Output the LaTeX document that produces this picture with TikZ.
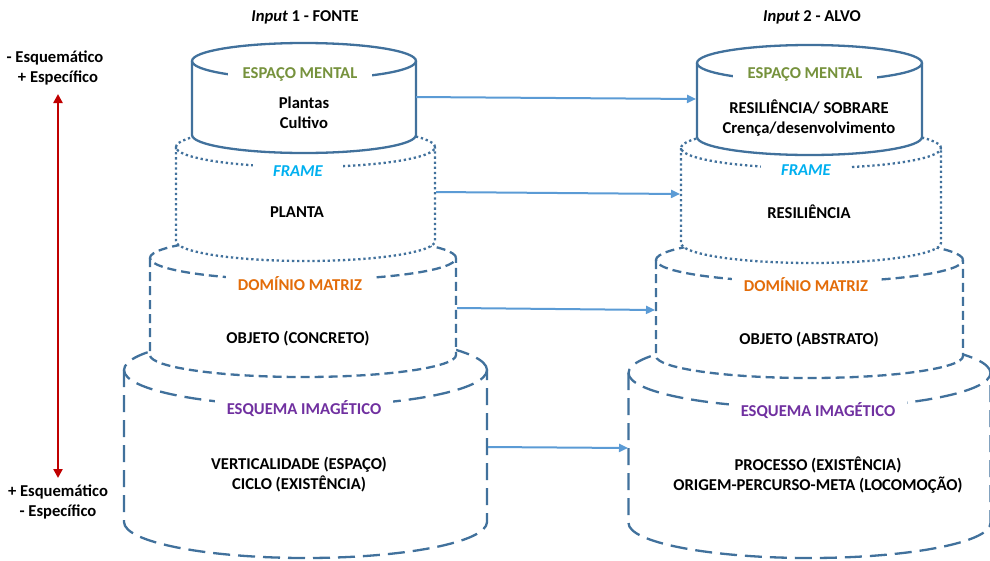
\documentclass[tikz,border=0pt]{standalone}
\usepackage{fontspec}
\setmainfont{Carlito}
\usetikzlibrary{arrows.meta}

\definecolor{rim}{HTML}{41719C}
\definecolor{linkblue}{HTML}{5B9BD5}
\definecolor{mentalgreen}{HTML}{76923C}
\definecolor{framecyan}{HTML}{00B0F0}
\definecolor{domorange}{HTML}{E36C09}
\definecolor{schpurple}{HTML}{7030A0}
\definecolor{axisred}{HTML}{C00000}

% drum: #1 line style, #2 centre x, #3 top y, #4 bottom y, #5 x radius, #6 y radius
\newcommand\drum[6]{%
  \fill[white] (#2-#5,#3) arc[start angle=180,end angle=0,x radius=#5pt,y radius=#6pt]
     -- (#2+#5,#4) arc[start angle=360,end angle=180,x radius=#5pt,y radius=#6pt] -- cycle;
  \draw[#1] (#2,#3) ellipse[x radius=#5pt,y radius=#6pt];
  \draw[#1] (#2-#5,#3) -- (#2-#5,#4)
     arc[start angle=180,end angle=360,x radius=#5pt,y radius=#6pt] -- (#2+#5,#3);
}

\tikzset{
  txt/.style={font=\fontsize{16.6}{20}\selectfont\bfseries, align=center, inner sep=0pt},
  tag/.style={txt, fill=white, inner xsep=12pt, inner ysep=2pt},
  solidrim/.style={draw=rim, line width=2.3pt},
  dotrim/.style={draw=rim, line width=2.3pt, dash pattern=on 2.3pt off 2.8pt},
  dashrim/.style={draw=rim, line width=2.3pt, dash pattern=on 9pt off 5pt},
  longrim/.style={draw=rim, line width=2.3pt, dash pattern=on 17pt off 8pt},
  linkarrow/.style={draw=linkblue, line width=2pt, -{Triangle[length=9pt,width=8pt]}},
  axisarrow/.style={draw=axisred, line width=2.8pt,
    {Triangle[length=9pt,width=9pt]}-{Triangle[length=9pt,width=9pt]}}
}

\begin{document}
\begin{tikzpicture}[x=1pt,y=-1pt]
\useasboundingbox (0,0) rectangle (990,560);

% titles
\node[txt] (t1) at (305,17) {\textit{Input} 1 - FONTE};
\node[txt] (t2) at (812,17) {\textit{Input} 2 - ALVO};

% schematicity axis
\node[txt] (up1) at (55,58) {- Esquemático};
\node[txt] (up2) at (58,78) {+ Específico};
\node[txt] (dn1) at (58,492) {+ Esquemático};
\node[txt] (dn2) at (58,512) {- Específico};
\coordinate (axtop) at (58,94);
\coordinate (axbot) at (58,478);
\draw[axisarrow] (axbot) -- (axtop);

% ---- source stack ----
\drum{longrim}{305.5}{370}{522}{181.5}{36}
\node[tag, text=schpurple] (s4) at (304,409) {ESQUEMA IMAGÉTICO};
\node[txt] (s4b) at (299,475) {VERTICALIDADE (ESPAÇO)\\CICLO (EXISTÊNCIA)};

\drum{dashrim}{303}{258}{355}{153}{22}
\node[tag, text=domorange] (s3) at (300,284) {DOMÍNIO MATRIZ};
\node[txt] (s3b) at (298,339) {OBJETO (CONCRETO)};

\drum{dotrim}{305.5}{147}{241}{129.5}{20}
\node[tag, text=framecyan, inner xsep=20pt, font=\fontsize{16.6}{20}\selectfont\bfseries\itshape] (s2) at (298,171) {FRAME};
\node[txt] (s2b) at (297,212) {PLANTA};

\drum{solidrim}{304}{61}{135}{112}{18}
\node[tag, text=mentalgreen, inner xsep=15pt] (s1) at (300,74) {ESPAÇO MENTAL};
\node[txt] (s1b) at (304,113) {Plantas\\Cultivo};

% ---- target stack ----
\drum{longrim}{809.5}{373}{523}{181}{35}
\node[tag, text=schpurple] (r4) at (818,411) {ESQUEMA IMAGÉTICO};
\node[txt] (r4b) at (818,475) {PROCESSO (EXISTÊNCIA)\\ORIGEM-PERCURSO-META (LOCOMOÇÃO)};

\drum{dashrim}{809.5}{260}{356}{153.5}{22}
\node[tag, text=domorange] (r3) at (806,285) {DOMÍNIO MATRIZ};
\node[txt] (r3b) at (809,340) {OBJETO (ABSTRATO)};

\drum{dotrim}{811}{148}{243}{130}{20}
\node[tag, text=framecyan, inner xsep=20pt, font=\fontsize{16.6}{20}\selectfont\bfseries\itshape] (r2) at (806,170) {FRAME};
\node[txt] (r2b) at (809,212) {RESILIÊNCIA};

\drum{solidrim}{809.5}{63}{137}{112.5}{18}
\node[tag, text=mentalgreen, inner xsep=15pt] (r1) at (805,74) {ESPAÇO MENTAL};
\node[txt] (r1b) at (809,118) {RESILIÊNCIA/ SOBRARE\\Crença/desenvolvimento};

% ---- mappings between the stacks ----
\coordinate (a1) at (416,97);  \coordinate (b1) at (696,99);
\coordinate (a2) at (436,192); \coordinate (b2) at (680,194);
\coordinate (a3) at (457,308); \coordinate (b3) at (655,310);
\coordinate (a4) at (488,447); \coordinate (b4) at (628,448);
\draw[linkarrow] (a1) -- (b1);
\draw[linkarrow] (a2) -- (b2);
\draw[linkarrow] (a3) -- (b3);
\draw[linkarrow] (a4) -- (b4);
\end{tikzpicture}
\end{document}
